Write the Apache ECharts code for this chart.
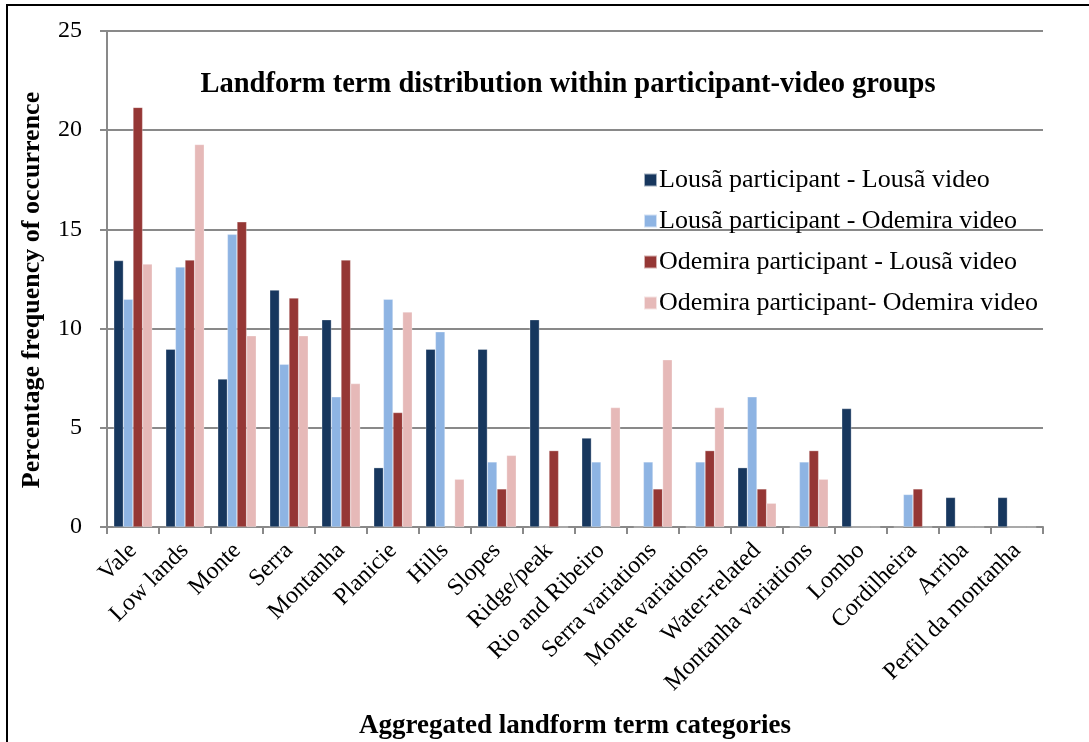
<!DOCTYPE html>
<html>
<head>
<meta charset="utf-8">
<script src="https://cdn.jsdelivr.net/npm/echarts@6/dist/echarts.min.js"></script>
<style>
  html, body { margin: 0; padding: 0; background: #ffffff; }
  #chart { width: 1089px; height: 742px; }
</style>
</head>
<body>
<div id="chart"></div>
<script>
// Landform term categories (x axis)
const categories = [
  'Vale', 'Low lands', 'Monte', 'Serra', 'Montanha', 'Planicie', 'Hills', 'Slopes',
  'Ridge/peak', 'Rio and Ribeiro', 'Serra variations', 'Monte variations',
  'Water-related', 'Montanha variations', 'Lombo', 'Cordilheira', 'Arriba',
  'Perfil da montanha'
];

// Percentage frequency of occurrence per participant-video group
const lousaLousa = [13.43, 8.96, 7.46, 11.94, 10.45, 2.99, 8.96, 8.96, 10.45, 4.48, 0, 0, 2.99, 0, 5.97, 0, 1.49, 1.49];
const lousaOdemira = [11.48, 13.11, 14.75, 8.20, 6.56, 11.48, 9.84, 3.28, 0, 3.28, 3.28, 3.28, 6.56, 3.28, 0, 1.64, 0, 0];
const odemiraLousa = [21.15, 13.46, 15.38, 11.54, 13.46, 5.77, 0, 1.92, 3.85, 0, 1.92, 3.85, 1.92, 3.85, 0, 1.92, 0, 0];
const odemiraOdemira = [13.25, 19.28, 9.64, 9.64, 7.23, 10.84, 2.41, 3.61, 0, 6.02, 8.43, 6.02, 1.20, 2.41, 0, 0, 0, 0];

const seriesNames = [
  'Lousã participant - Lousã video',
  'Lousã participant - Odemira video',
  'Odemira participant - Lousã video',
  'Odemira participant- Odemira video'
];
const seriesColors = ['#17375E', '#8EB4E3', '#953735', '#E6B9B8'];
const seriesData = [lousaLousa, lousaOdemira, odemiraLousa, odemiraOdemira];

const yTicks = { min: 0, max: 25, interval: 5 };

const FONT = "'Liberation Serif', 'DejaVu Serif', serif";
const GRID_GRAY = '#898989';

const chart = echarts.init(document.getElementById('chart'), null, { renderer: 'canvas' });

chart.setOption({
  backgroundColor: '#ffffff',
  animation: false,
  textStyle: { fontFamily: FONT, color: '#000' },
  title: {
    text: 'Landform term distribution within participant-video groups',
    left: 563,
    top: 65,
    textAlign: 'center',
    textStyle: { fontFamily: FONT, fontWeight: 'bold', fontSize: 28.5, color: '#000' }
  },
  legend: {
    orient: 'vertical',
    left: 638,
    top: 162,
    itemWidth: 13,
    itemHeight: 13,
    itemGap: 15,
    icon: 'rect',
    textStyle: { fontFamily: FONT, fontSize: 26, color: '#000', padding: [0, 0, 0, -3] },
    data: seriesNames
  },
  grid: { left: 107, right: 46, top: 31, bottom: 215, containLabel: false, outerBoundsMode: 'none' },
  xAxis: {
    type: 'category',
    data: categories,
    name: 'Aggregated landform term categories',
    nameLocation: 'middle',
    nameGap: 186,
    nameTextStyle: { fontFamily: FONT, fontWeight: 'bold', fontSize: 27, color: '#000' },
    axisLine: { show: true, lineStyle: { color: GRID_GRAY, width: 2 } },
    axisTick: { show: true, alignWithLabel: false, length: 7, lineStyle: { color: GRID_GRAY, width: 2 } },
    axisLabel: {
      interval: 0,
      rotate: 45,
      margin: 20,
      fontFamily: FONT,
      fontSize: 24,
      color: '#000'
    },
    splitLine: { show: false }
  },
  yAxis: {
    type: 'value',
    min: yTicks.min,
    max: yTicks.max,
    interval: yTicks.interval,
    axisLine: { show: true, lineStyle: { color: GRID_GRAY, width: 2 } },
    axisTick: { show: true, length: 7, lineStyle: { color: GRID_GRAY, width: 2 } },
    axisLabel: { margin: 25, fontFamily: FONT, fontSize: 24, color: '#000' },
    splitLine: { show: true, lineStyle: { color: GRID_GRAY, width: 2 } }
  },
  series: seriesData.map((d, i) => ({
    name: seriesNames[i],
    type: 'bar',
    data: d,
    barGap: '0%',
    barCategoryGap: '26%',
    itemStyle: { color: seriesColors[i], borderColor: 'rgba(255,255,255,0.6)', borderWidth: 0.5 }
  })),
  graphic: [
    {
      type: 'text',
      x: 32,
      y: 290,
      rotation: Math.PI / 2,
      style: {
        text: 'Percentage frequency of occurrence',
        fontFamily: FONT,
        fontWeight: 'bold',
        fontSize: 26,
        fill: '#000',
        align: 'center',
        verticalAlign: 'middle'
      }
    },
    {
      type: 'rect',
      shape: { x: 7, y: 5, width: 1120, height: 780 },
      style: { fill: 'none', stroke: '#000', lineWidth: 2 },
      silent: true
    }
  ]
});
</script>
</body>
</html>
